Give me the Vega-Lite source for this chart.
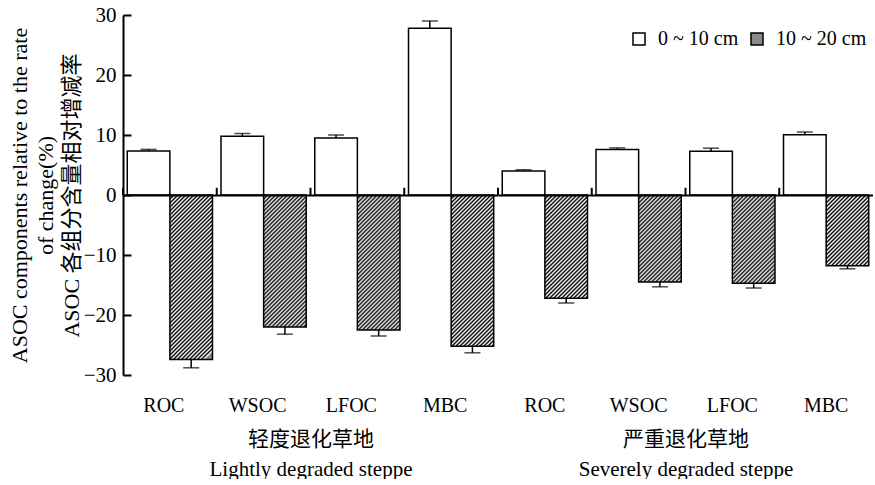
{
  "$schema": "https://vega.github.io/schema/vega-lite/v6.json",
  "padding": {"left": 8, "top": 4, "right": 0, "bottom": 0},
  "autosize": {"type": "pad"},
  "background": "white",
  "spacing": 0,
  "bounds": "flush",
  "config": {"view": {"stroke": null}, "font": "Liberation Serif"},
  "datasets": {
    "d": [
      {"group": "L", "cat": "ROC", "depth": "0 ~ 10 cm", "value": 7.33, "hi": 7.6},
      {"group": "L", "cat": "WSOC", "depth": "0 ~ 10 cm", "value": 9.8, "hi": 10.25},
      {"group": "L", "cat": "LFOC", "depth": "0 ~ 10 cm", "value": 9.5, "hi": 10.0},
      {"group": "L", "cat": "MBC", "depth": "0 ~ 10 cm", "value": 27.8, "hi": 29.0},
      {"group": "S", "cat": "ROC", "depth": "0 ~ 10 cm", "value": 4.0, "hi": 4.2},
      {"group": "S", "cat": "WSOC", "depth": "0 ~ 10 cm", "value": 7.6, "hi": 7.85},
      {"group": "S", "cat": "LFOC", "depth": "0 ~ 10 cm", "value": 7.3, "hi": 7.8},
      {"group": "S", "cat": "MBC", "depth": "0 ~ 10 cm", "value": 10.05, "hi": 10.5},
      {"group": "L", "cat": "ROC", "depth": "10 ~ 20 cm", "value": -27.4, "hi": -28.8},
      {"group": "L", "cat": "WSOC", "depth": "10 ~ 20 cm", "value": -22.0, "hi": -23.2},
      {"group": "L", "cat": "LFOC", "depth": "10 ~ 20 cm", "value": -22.5, "hi": -23.5},
      {"group": "L", "cat": "MBC", "depth": "10 ~ 20 cm", "value": -25.2, "hi": -26.3},
      {"group": "S", "cat": "ROC", "depth": "10 ~ 20 cm", "value": -17.2, "hi": -18.0},
      {"group": "S", "cat": "WSOC", "depth": "10 ~ 20 cm", "value": -14.5, "hi": -15.3},
      {"group": "S", "cat": "LFOC", "depth": "10 ~ 20 cm", "value": -14.7, "hi": -15.5},
      {"group": "S", "cat": "MBC", "depth": "10 ~ 20 cm", "value": -11.8, "hi": -12.3}
    ]
  },
  "hconcat": [
    {
      "width": 375,
      "height": 360,
      "data": {"name": "d"},
      "transform": [{"filter": "datum.group === 'L'"}],
      "encoding": {
        "y": {
          "field": "value",
          "type": "quantitative",
          "scale": {"domain": [-30, 30], "nice": false, "zero": false},
          "axis": {
            "values": [-30, -20, -10, 0, 10, 20, 30],
            "domainColor": "black",
            "domainWidth": 2,
            "tickColor": "black",
            "tickWidth": 2,
            "tickSize": -8,
            "labelPadding": 15,
            "labelFont": "Liberation Serif",
            "labelFontSize": 21,
            "labelColor": "black",
            "title": ["ASOC components relative to the rate", "of change(%)", "ASOC 各组分含量相对增减率"],
            "titleFont": "Liberation Serif, Noto Sans CJK SC",
            "titleFontSize": 22,
            "titleFontWeight": "normal",
            "titleColor": "black",
            "titleLineHeight": 26,
            "titlePadding": 0,
            "grid": true,
            "gridColor": "black",
            "gridWidth": 2,
            "gridOpacity": {"condition": {"test": "datum.value === 0", "value": 1}, "value": 0},
            "zindex": 1
          }
        }
      },
      "layer": [
        {
          "transform": [{"filter": "datum.depth === '0 ~ 10 cm'"}],
          "mark": {"type": "bar", "fill": "white", "stroke": "black", "strokeWidth": 1.5},
          "encoding": {
            "x": {"field": "cat", "type": "nominal", "sort": ["ROC", "WSOC", "LFOC", "MBC"], "scale": {"paddingInner": 0, "paddingOuter": 0},
              "axis": {"orient": "bottom", "domain": false, "ticks": false, "labelAngle": 0, "labelFont": "Liberation Serif", "labelFontSize": 20, "labelColor": "black", "labelPadding": 20, "labelOffset": -6,
                "title": ["轻度退化草地", "Lightly degraded steppe"], "titleFont": "Liberation Serif, Noto Sans CJK SC", "titleFontSize": 21, "titleFontWeight": "normal", "titleColor": "black", "titleLineHeight": 30, "titlePadding": 13}},
            "xOffset": {"field": "depth", "type": "nominal", "sort": ["0 ~ 10 cm", "10 ~ 20 cm"], "scale": {"paddingInner": 0, "paddingOuter": 0.1}}
          }
        },
        {
          "transform": [{"filter": "datum.cat === 'ROC' && datum.depth === '10 ~ 20 cm'"}],
          "mark": {"type": "bar", "stroke": "black", "strokeWidth": 1.5, "fill": {"gradient": "linear", "x1": 0, "y1": 0, "x2": 0.29546, "y2": 1.13997, "stops": [{"offset":0,"color":"#000"},{"offset":0.01,"color":"#fff"},{"offset":0.02,"color":"#000"},{"offset":0.03,"color":"#fff"},{"offset":0.04,"color":"#000"},{"offset":0.05,"color":"#fff"},{"offset":0.06,"color":"#000"},{"offset":0.07,"color":"#fff"},{"offset":0.08,"color":"#000"},{"offset":0.09,"color":"#fff"},{"offset":0.1,"color":"#000"},{"offset":0.11,"color":"#fff"},{"offset":0.12,"color":"#000"},{"offset":0.13,"color":"#fff"},{"offset":0.14,"color":"#000"},{"offset":0.15,"color":"#fff"},{"offset":0.16,"color":"#000"},{"offset":0.17,"color":"#fff"},{"offset":0.18,"color":"#000"},{"offset":0.19,"color":"#fff"},{"offset":0.2,"color":"#000"},{"offset":0.21,"color":"#fff"},{"offset":0.22,"color":"#000"},{"offset":0.23,"color":"#fff"},{"offset":0.24,"color":"#000"},{"offset":0.25,"color":"#fff"},{"offset":0.26,"color":"#000"},{"offset":0.27,"color":"#fff"},{"offset":0.28,"color":"#000"},{"offset":0.29,"color":"#fff"},{"offset":0.3,"color":"#000"},{"offset":0.31,"color":"#fff"},{"offset":0.32,"color":"#000"},{"offset":0.33,"color":"#fff"},{"offset":0.34,"color":"#000"},{"offset":0.35,"color":"#fff"},{"offset":0.36,"color":"#000"},{"offset":0.37,"color":"#fff"},{"offset":0.38,"color":"#000"},{"offset":0.39,"color":"#fff"},{"offset":0.4,"color":"#000"},{"offset":0.41,"color":"#fff"},{"offset":0.42,"color":"#000"},{"offset":0.43,"color":"#fff"},{"offset":0.44,"color":"#000"},{"offset":0.45,"color":"#fff"},{"offset":0.46,"color":"#000"},{"offset":0.47,"color":"#fff"},{"offset":0.48,"color":"#000"},{"offset":0.49,"color":"#fff"},{"offset":0.5,"color":"#000"},{"offset":0.51,"color":"#fff"},{"offset":0.52,"color":"#000"},{"offset":0.53,"color":"#fff"},{"offset":0.54,"color":"#000"},{"offset":0.55,"color":"#fff"},{"offset":0.56,"color":"#000"},{"offset":0.57,"color":"#fff"},{"offset":0.58,"color":"#000"},{"offset":0.59,"color":"#fff"},{"offset":0.6,"color":"#000"},{"offset":0.61,"color":"#fff"},{"offset":0.62,"color":"#000"},{"offset":0.63,"color":"#fff"},{"offset":0.64,"color":"#000"},{"offset":0.65,"color":"#fff"},{"offset":0.66,"color":"#000"},{"offset":0.67,"color":"#fff"},{"offset":0.68,"color":"#000"},{"offset":0.69,"color":"#fff"},{"offset":0.7,"color":"#000"},{"offset":0.71,"color":"#fff"},{"offset":0.72,"color":"#000"},{"offset":0.73,"color":"#fff"},{"offset":0.74,"color":"#000"},{"offset":0.75,"color":"#fff"},{"offset":0.76,"color":"#000"},{"offset":0.77,"color":"#fff"},{"offset":0.78,"color":"#000"},{"offset":0.79,"color":"#fff"},{"offset":0.8,"color":"#000"},{"offset":0.81,"color":"#fff"},{"offset":0.82,"color":"#000"},{"offset":0.83,"color":"#fff"},{"offset":0.84,"color":"#000"},{"offset":0.85,"color":"#fff"},{"offset":0.86,"color":"#000"},{"offset":0.87,"color":"#fff"},{"offset":0.88,"color":"#000"},{"offset":0.89,"color":"#fff"},{"offset":0.9,"color":"#000"},{"offset":0.91,"color":"#fff"},{"offset":0.92,"color":"#000"},{"offset":0.93,"color":"#fff"},{"offset":0.94,"color":"#000"},{"offset":0.95,"color":"#fff"},{"offset":0.96,"color":"#000"},{"offset":0.97,"color":"#fff"},{"offset":0.98,"color":"#000"},{"offset":0.99,"color":"#fff"},{"offset":1,"color":"#888"}]}},
          "encoding": {
            "x": {"field": "cat", "type": "nominal", "sort": ["ROC", "WSOC", "LFOC", "MBC"], "scale": {"paddingInner": 0, "paddingOuter": 0}},
            "xOffset": {"field": "depth", "type": "nominal", "sort": ["0 ~ 10 cm", "10 ~ 20 cm"], "scale": {"paddingInner": 0, "paddingOuter": 0.1}}
          }
        },
        {
          "transform": [{"filter": "datum.cat === 'WSOC' && datum.depth === '10 ~ 20 cm'"}],
          "mark": {"type": "bar", "stroke": "black", "strokeWidth": 1.5, "fill": {"gradient": "linear", "x1": 0, "y1": 0, "x2": 0.44294, "y2": 1.37217, "stops": [{"offset":0,"color":"#000"},{"offset":0.01,"color":"#fff"},{"offset":0.02,"color":"#000"},{"offset":0.03,"color":"#fff"},{"offset":0.04,"color":"#000"},{"offset":0.05,"color":"#fff"},{"offset":0.06,"color":"#000"},{"offset":0.07,"color":"#fff"},{"offset":0.08,"color":"#000"},{"offset":0.09,"color":"#fff"},{"offset":0.1,"color":"#000"},{"offset":0.11,"color":"#fff"},{"offset":0.12,"color":"#000"},{"offset":0.13,"color":"#fff"},{"offset":0.14,"color":"#000"},{"offset":0.15,"color":"#fff"},{"offset":0.16,"color":"#000"},{"offset":0.17,"color":"#fff"},{"offset":0.18,"color":"#000"},{"offset":0.19,"color":"#fff"},{"offset":0.2,"color":"#000"},{"offset":0.21,"color":"#fff"},{"offset":0.22,"color":"#000"},{"offset":0.23,"color":"#fff"},{"offset":0.24,"color":"#000"},{"offset":0.25,"color":"#fff"},{"offset":0.26,"color":"#000"},{"offset":0.27,"color":"#fff"},{"offset":0.28,"color":"#000"},{"offset":0.29,"color":"#fff"},{"offset":0.3,"color":"#000"},{"offset":0.31,"color":"#fff"},{"offset":0.32,"color":"#000"},{"offset":0.33,"color":"#fff"},{"offset":0.34,"color":"#000"},{"offset":0.35,"color":"#fff"},{"offset":0.36,"color":"#000"},{"offset":0.37,"color":"#fff"},{"offset":0.38,"color":"#000"},{"offset":0.39,"color":"#fff"},{"offset":0.4,"color":"#000"},{"offset":0.41,"color":"#fff"},{"offset":0.42,"color":"#000"},{"offset":0.43,"color":"#fff"},{"offset":0.44,"color":"#000"},{"offset":0.45,"color":"#fff"},{"offset":0.46,"color":"#000"},{"offset":0.47,"color":"#fff"},{"offset":0.48,"color":"#000"},{"offset":0.49,"color":"#fff"},{"offset":0.5,"color":"#000"},{"offset":0.51,"color":"#fff"},{"offset":0.52,"color":"#000"},{"offset":0.53,"color":"#fff"},{"offset":0.54,"color":"#000"},{"offset":0.55,"color":"#fff"},{"offset":0.56,"color":"#000"},{"offset":0.57,"color":"#fff"},{"offset":0.58,"color":"#000"},{"offset":0.59,"color":"#fff"},{"offset":0.6,"color":"#000"},{"offset":0.61,"color":"#fff"},{"offset":0.62,"color":"#000"},{"offset":0.63,"color":"#fff"},{"offset":0.64,"color":"#000"},{"offset":0.65,"color":"#fff"},{"offset":0.66,"color":"#000"},{"offset":0.67,"color":"#fff"},{"offset":0.68,"color":"#000"},{"offset":0.69,"color":"#fff"},{"offset":0.7,"color":"#000"},{"offset":0.71,"color":"#fff"},{"offset":0.72,"color":"#000"},{"offset":0.73,"color":"#fff"},{"offset":0.74,"color":"#000"},{"offset":0.75,"color":"#fff"},{"offset":0.76,"color":"#000"},{"offset":0.77,"color":"#fff"},{"offset":0.78,"color":"#000"},{"offset":0.79,"color":"#fff"},{"offset":0.8,"color":"#000"},{"offset":0.81,"color":"#fff"},{"offset":0.82,"color":"#000"},{"offset":0.83,"color":"#fff"},{"offset":0.84,"color":"#000"},{"offset":0.85,"color":"#fff"},{"offset":0.86,"color":"#000"},{"offset":0.87,"color":"#fff"},{"offset":0.88,"color":"#000"}]}},
          "encoding": {
            "x": {"field": "cat", "type": "nominal", "sort": ["ROC", "WSOC", "LFOC", "MBC"], "scale": {"paddingInner": 0, "paddingOuter": 0}},
            "xOffset": {"field": "depth", "type": "nominal", "sort": ["0 ~ 10 cm", "10 ~ 20 cm"], "scale": {"paddingInner": 0, "paddingOuter": 0.1}}
          }
        },
        {
          "transform": [{"filter": "datum.cat === 'LFOC' && datum.depth === '10 ~ 20 cm'"}],
          "mark": {"type": "bar", "stroke": "black", "strokeWidth": 1.5, "fill": {"gradient": "linear", "x1": 0, "y1": 0, "x2": 0.42524, "y2": 1.34727, "stops": [{"offset":0,"color":"#000"},{"offset":0.01,"color":"#fff"},{"offset":0.02,"color":"#000"},{"offset":0.03,"color":"#fff"},{"offset":0.04,"color":"#000"},{"offset":0.05,"color":"#fff"},{"offset":0.06,"color":"#000"},{"offset":0.07,"color":"#fff"},{"offset":0.08,"color":"#000"},{"offset":0.09,"color":"#fff"},{"offset":0.1,"color":"#000"},{"offset":0.11,"color":"#fff"},{"offset":0.12,"color":"#000"},{"offset":0.13,"color":"#fff"},{"offset":0.14,"color":"#000"},{"offset":0.15,"color":"#fff"},{"offset":0.16,"color":"#000"},{"offset":0.17,"color":"#fff"},{"offset":0.18,"color":"#000"},{"offset":0.19,"color":"#fff"},{"offset":0.2,"color":"#000"},{"offset":0.21,"color":"#fff"},{"offset":0.22,"color":"#000"},{"offset":0.23,"color":"#fff"},{"offset":0.24,"color":"#000"},{"offset":0.25,"color":"#fff"},{"offset":0.26,"color":"#000"},{"offset":0.27,"color":"#fff"},{"offset":0.28,"color":"#000"},{"offset":0.29,"color":"#fff"},{"offset":0.3,"color":"#000"},{"offset":0.31,"color":"#fff"},{"offset":0.32,"color":"#000"},{"offset":0.33,"color":"#fff"},{"offset":0.34,"color":"#000"},{"offset":0.35,"color":"#fff"},{"offset":0.36,"color":"#000"},{"offset":0.37,"color":"#fff"},{"offset":0.38,"color":"#000"},{"offset":0.39,"color":"#fff"},{"offset":0.4,"color":"#000"},{"offset":0.41,"color":"#fff"},{"offset":0.42,"color":"#000"},{"offset":0.43,"color":"#fff"},{"offset":0.44,"color":"#000"},{"offset":0.45,"color":"#fff"},{"offset":0.46,"color":"#000"},{"offset":0.47,"color":"#fff"},{"offset":0.48,"color":"#000"},{"offset":0.49,"color":"#fff"},{"offset":0.5,"color":"#000"},{"offset":0.51,"color":"#fff"},{"offset":0.52,"color":"#000"},{"offset":0.53,"color":"#fff"},{"offset":0.54,"color":"#000"},{"offset":0.55,"color":"#fff"},{"offset":0.56,"color":"#000"},{"offset":0.57,"color":"#fff"},{"offset":0.58,"color":"#000"},{"offset":0.59,"color":"#fff"},{"offset":0.6,"color":"#000"},{"offset":0.61,"color":"#fff"},{"offset":0.62,"color":"#000"},{"offset":0.63,"color":"#fff"},{"offset":0.64,"color":"#000"},{"offset":0.65,"color":"#fff"},{"offset":0.66,"color":"#000"},{"offset":0.67,"color":"#fff"},{"offset":0.68,"color":"#000"},{"offset":0.69,"color":"#fff"},{"offset":0.7,"color":"#000"},{"offset":0.71,"color":"#fff"},{"offset":0.72,"color":"#000"},{"offset":0.73,"color":"#fff"},{"offset":0.74,"color":"#000"},{"offset":0.75,"color":"#fff"},{"offset":0.76,"color":"#000"},{"offset":0.77,"color":"#fff"},{"offset":0.78,"color":"#000"},{"offset":0.79,"color":"#fff"},{"offset":0.8,"color":"#000"},{"offset":0.81,"color":"#fff"},{"offset":0.82,"color":"#000"},{"offset":0.83,"color":"#fff"},{"offset":0.84,"color":"#000"},{"offset":0.85,"color":"#fff"},{"offset":0.86,"color":"#000"},{"offset":0.87,"color":"#fff"},{"offset":0.88,"color":"#000"},{"offset":0.89,"color":"#fff"},{"offset":0.9,"color":"#000"}]}},
          "encoding": {
            "x": {"field": "cat", "type": "nominal", "sort": ["ROC", "WSOC", "LFOC", "MBC"], "scale": {"paddingInner": 0, "paddingOuter": 0}},
            "xOffset": {"field": "depth", "type": "nominal", "sort": ["0 ~ 10 cm", "10 ~ 20 cm"], "scale": {"paddingInner": 0, "paddingOuter": 0.1}}
          }
        },
        {
          "transform": [{"filter": "datum.cat === 'MBC' && datum.depth === '10 ~ 20 cm'"}],
          "mark": {"type": "bar", "stroke": "black", "strokeWidth": 1.5, "fill": {"gradient": "linear", "x1": 0, "y1": 0, "x2": 0.34534, "y2": 1.22543, "stops": [{"offset":0,"color":"#000"},{"offset":0.01,"color":"#fff"},{"offset":0.02,"color":"#000"},{"offset":0.03,"color":"#fff"},{"offset":0.04,"color":"#000"},{"offset":0.05,"color":"#fff"},{"offset":0.06,"color":"#000"},{"offset":0.07,"color":"#fff"},{"offset":0.08,"color":"#000"},{"offset":0.09,"color":"#fff"},{"offset":0.1,"color":"#000"},{"offset":0.11,"color":"#fff"},{"offset":0.12,"color":"#000"},{"offset":0.13,"color":"#fff"},{"offset":0.14,"color":"#000"},{"offset":0.15,"color":"#fff"},{"offset":0.16,"color":"#000"},{"offset":0.17,"color":"#fff"},{"offset":0.18,"color":"#000"},{"offset":0.19,"color":"#fff"},{"offset":0.2,"color":"#000"},{"offset":0.21,"color":"#fff"},{"offset":0.22,"color":"#000"},{"offset":0.23,"color":"#fff"},{"offset":0.24,"color":"#000"},{"offset":0.25,"color":"#fff"},{"offset":0.26,"color":"#000"},{"offset":0.27,"color":"#fff"},{"offset":0.28,"color":"#000"},{"offset":0.29,"color":"#fff"},{"offset":0.3,"color":"#000"},{"offset":0.31,"color":"#fff"},{"offset":0.32,"color":"#000"},{"offset":0.33,"color":"#fff"},{"offset":0.34,"color":"#000"},{"offset":0.35,"color":"#fff"},{"offset":0.36,"color":"#000"},{"offset":0.37,"color":"#fff"},{"offset":0.38,"color":"#000"},{"offset":0.39,"color":"#fff"},{"offset":0.4,"color":"#000"},{"offset":0.41,"color":"#fff"},{"offset":0.42,"color":"#000"},{"offset":0.43,"color":"#fff"},{"offset":0.44,"color":"#000"},{"offset":0.45,"color":"#fff"},{"offset":0.46,"color":"#000"},{"offset":0.47,"color":"#fff"},{"offset":0.48,"color":"#000"},{"offset":0.49,"color":"#fff"},{"offset":0.5,"color":"#000"},{"offset":0.51,"color":"#fff"},{"offset":0.52,"color":"#000"},{"offset":0.53,"color":"#fff"},{"offset":0.54,"color":"#000"},{"offset":0.55,"color":"#fff"},{"offset":0.56,"color":"#000"},{"offset":0.57,"color":"#fff"},{"offset":0.58,"color":"#000"},{"offset":0.59,"color":"#fff"},{"offset":0.6,"color":"#000"},{"offset":0.61,"color":"#fff"},{"offset":0.62,"color":"#000"},{"offset":0.63,"color":"#fff"},{"offset":0.64,"color":"#000"},{"offset":0.65,"color":"#fff"},{"offset":0.66,"color":"#000"},{"offset":0.67,"color":"#fff"},{"offset":0.68,"color":"#000"},{"offset":0.69,"color":"#fff"},{"offset":0.7,"color":"#000"},{"offset":0.71,"color":"#fff"},{"offset":0.72,"color":"#000"},{"offset":0.73,"color":"#fff"},{"offset":0.74,"color":"#000"},{"offset":0.75,"color":"#fff"},{"offset":0.76,"color":"#000"},{"offset":0.77,"color":"#fff"},{"offset":0.78,"color":"#000"},{"offset":0.79,"color":"#fff"},{"offset":0.8,"color":"#000"},{"offset":0.81,"color":"#fff"},{"offset":0.82,"color":"#000"},{"offset":0.83,"color":"#fff"},{"offset":0.84,"color":"#000"},{"offset":0.85,"color":"#fff"},{"offset":0.86,"color":"#000"},{"offset":0.87,"color":"#fff"},{"offset":0.88,"color":"#000"},{"offset":0.89,"color":"#fff"},{"offset":0.9,"color":"#000"},{"offset":0.91,"color":"#fff"},{"offset":0.92,"color":"#000"},{"offset":0.93,"color":"#fff"},{"offset":0.94,"color":"#000"},{"offset":0.95,"color":"#fff"},{"offset":0.96,"color":"#000"},{"offset":0.97,"color":"#fff"},{"offset":0.98,"color":"#000"}]}},
          "encoding": {
            "x": {"field": "cat", "type": "nominal", "sort": ["ROC", "WSOC", "LFOC", "MBC"], "scale": {"paddingInner": 0, "paddingOuter": 0}},
            "xOffset": {"field": "depth", "type": "nominal", "sort": ["0 ~ 10 cm", "10 ~ 20 cm"], "scale": {"paddingInner": 0, "paddingOuter": 0.1}}
          }
        },
        {
          "mark": {"type": "rule", "color": "black", "strokeWidth": 1.5},
          "encoding": {
            "x": {"field": "cat", "type": "nominal", "sort": ["ROC", "WSOC", "LFOC", "MBC"], "scale": {"paddingInner": 0, "paddingOuter": 0}},
            "xOffset": {"field": "depth", "type": "nominal", "sort": ["0 ~ 10 cm", "10 ~ 20 cm"], "scale": {"paddingInner": 0, "paddingOuter": 0.1}},
            "y2": {"field": "hi"}
          }
        },
        {
          "mark": {"type": "tick", "orient": "horizontal", "color": "black", "size": 16, "thickness": 1.5},
          "encoding": {
            "x": {"field": "cat", "type": "nominal", "sort": ["ROC", "WSOC", "LFOC", "MBC"], "scale": {"paddingInner": 0, "paddingOuter": 0}},
            "xOffset": {"field": "depth", "type": "nominal", "sort": ["0 ~ 10 cm", "10 ~ 20 cm"], "scale": {"paddingInner": 0, "paddingOuter": 0.1}},
            "y": {"field": "hi", "type": "quantitative"}
          }
        },
        {
          "transform": [{"filter": "datum.depth === '0 ~ 10 cm'"}],
          "mark": {"type": "rule", "color": "black", "strokeWidth": 2},
          "encoding": {
            "x": {"field": "cat", "type": "nominal", "sort": ["ROC", "WSOC", "LFOC", "MBC"], "bandPosition": 0, "scale": {"paddingInner": 0, "paddingOuter": 0}},
            "y": {"datum": 0},
            "y2": {"datum": 1.2}
          }
        }
      ]
    },
    {
      "width": 375,
      "height": 360,
      "data": {"name": "d"},
      "transform": [{"filter": "datum.group === 'S'"}],
      "encoding": {
        "y": {
          "field": "value",
          "type": "quantitative",
          "scale": {"domain": [-30, 30], "nice": false, "zero": false},
          "axis": {"values": [0], "domain": false, "ticks": false, "labels": false, "title": null, "grid": true, "gridColor": "black", "gridWidth": 2, "zindex": 1}
        }
      },
      "layer": [
        {
          "transform": [{"filter": "datum.depth === '0 ~ 10 cm'"}],
          "mark": {"type": "bar", "stroke": "black", "strokeWidth": 1.5},
          "encoding": {
            "x": {"field": "cat", "type": "nominal", "sort": ["ROC", "WSOC", "LFOC", "MBC"], "scale": {"paddingInner": 0, "paddingOuter": 0},
              "axis": {"orient": "bottom", "domain": false, "ticks": false, "labelAngle": 0, "labelFont": "Liberation Serif", "labelFontSize": 20, "labelColor": "black", "labelPadding": 20, "labelOffset": 0,
                "title": ["严重退化草地", "Severely degraded steppe"], "titleFont": "Liberation Serif, Noto Sans CJK SC", "titleFontSize": 21, "titleFontWeight": "normal", "titleColor": "black", "titleLineHeight": 30, "titlePadding": 13}},
            "xOffset": {"field": "depth", "type": "nominal", "sort": ["0 ~ 10 cm", "10 ~ 20 cm"], "scale": {"paddingInner": 0, "paddingOuter": 0.1}},
            "fill": {"field": "depth", "type": "nominal", "scale": {"domain": ["0 ~ 10 cm", "10 ~ 20 cm"], "range": ["white", "#8a8a8a"]},
              "legend": {"orient": "none", "legendX": 506, "legendY": 14, "direction": "horizontal", "gridAlign": "none", "title": null, "padding": 0, "symbolType": "square", "symbolSize": 144, "symbolStrokeWidth": 1.5, "symbolStrokeColor": "black", "labelFont": "Liberation Serif", "labelFontSize": 20, "labelColor": "black", "labelOffset": 9, "columnPadding": 8}}
          }
        },
        {
          "transform": [{"filter": "datum.cat === 'ROC' && datum.depth === '10 ~ 20 cm'"}],
          "mark": {"type": "bar", "stroke": "black", "strokeWidth": 1.5, "fill": {"gradient": "linear", "x1": 0, "y1": 0, "x2": 0.68363, "y2": 1.65573, "stops": [{"offset":0,"color":"#000"},{"offset":0.01,"color":"#fff"},{"offset":0.02,"color":"#000"},{"offset":0.03,"color":"#fff"},{"offset":0.04,"color":"#000"},{"offset":0.05,"color":"#fff"},{"offset":0.06,"color":"#000"},{"offset":0.07,"color":"#fff"},{"offset":0.08,"color":"#000"},{"offset":0.09,"color":"#fff"},{"offset":0.1,"color":"#000"},{"offset":0.11,"color":"#fff"},{"offset":0.12,"color":"#000"},{"offset":0.13,"color":"#fff"},{"offset":0.14,"color":"#000"},{"offset":0.15,"color":"#fff"},{"offset":0.16,"color":"#000"},{"offset":0.17,"color":"#fff"},{"offset":0.18,"color":"#000"},{"offset":0.19,"color":"#fff"},{"offset":0.2,"color":"#000"},{"offset":0.21,"color":"#fff"},{"offset":0.22,"color":"#000"},{"offset":0.23,"color":"#fff"},{"offset":0.24,"color":"#000"},{"offset":0.25,"color":"#fff"},{"offset":0.26,"color":"#000"},{"offset":0.27,"color":"#fff"},{"offset":0.28,"color":"#000"},{"offset":0.29,"color":"#fff"},{"offset":0.3,"color":"#000"},{"offset":0.31,"color":"#fff"},{"offset":0.32,"color":"#000"},{"offset":0.33,"color":"#fff"},{"offset":0.34,"color":"#000"},{"offset":0.35,"color":"#fff"},{"offset":0.36,"color":"#000"},{"offset":0.37,"color":"#fff"},{"offset":0.38,"color":"#000"},{"offset":0.39,"color":"#fff"},{"offset":0.4,"color":"#000"},{"offset":0.41,"color":"#fff"},{"offset":0.42,"color":"#000"},{"offset":0.43,"color":"#fff"},{"offset":0.44,"color":"#000"},{"offset":0.45,"color":"#fff"},{"offset":0.46,"color":"#000"},{"offset":0.47,"color":"#fff"},{"offset":0.48,"color":"#000"},{"offset":0.49,"color":"#fff"},{"offset":0.5,"color":"#000"},{"offset":0.51,"color":"#fff"},{"offset":0.52,"color":"#000"},{"offset":0.53,"color":"#fff"},{"offset":0.54,"color":"#000"},{"offset":0.55,"color":"#fff"},{"offset":0.56,"color":"#000"},{"offset":0.57,"color":"#fff"},{"offset":0.58,"color":"#000"},{"offset":0.59,"color":"#fff"},{"offset":0.6,"color":"#000"},{"offset":0.61,"color":"#fff"},{"offset":0.62,"color":"#000"},{"offset":0.63,"color":"#fff"},{"offset":0.64,"color":"#000"},{"offset":0.65,"color":"#fff"},{"offset":0.66,"color":"#000"},{"offset":0.67,"color":"#fff"},{"offset":0.68,"color":"#000"},{"offset":0.69,"color":"#fff"},{"offset":0.7,"color":"#000"},{"offset":0.71,"color":"#fff"},{"offset":0.72,"color":"#000"},{"offset":0.73,"color":"#fff"},{"offset":0.74,"color":"#000"}]}},
          "encoding": {
            "x": {"field": "cat", "type": "nominal", "sort": ["ROC", "WSOC", "LFOC", "MBC"], "scale": {"paddingInner": 0, "paddingOuter": 0}},
            "xOffset": {"field": "depth", "type": "nominal", "sort": ["0 ~ 10 cm", "10 ~ 20 cm"], "scale": {"paddingInner": 0, "paddingOuter": 0.1}}
          }
        },
        {
          "transform": [{"filter": "datum.cat === 'WSOC' && datum.depth === '10 ~ 20 cm'"}],
          "mark": {"type": "bar", "stroke": "black", "strokeWidth": 1.5, "fill": {"gradient": "linear", "x1": 0, "y1": 0, "x2": 0.90808, "y2": 1.8541, "stops": [{"offset":0,"color":"#000"},{"offset":0.01,"color":"#fff"},{"offset":0.02,"color":"#000"},{"offset":0.03,"color":"#fff"},{"offset":0.04,"color":"#000"},{"offset":0.05,"color":"#fff"},{"offset":0.06,"color":"#000"},{"offset":0.07,"color":"#fff"},{"offset":0.08,"color":"#000"},{"offset":0.09,"color":"#fff"},{"offset":0.1,"color":"#000"},{"offset":0.11,"color":"#fff"},{"offset":0.12,"color":"#000"},{"offset":0.13,"color":"#fff"},{"offset":0.14,"color":"#000"},{"offset":0.15,"color":"#fff"},{"offset":0.16,"color":"#000"},{"offset":0.17,"color":"#fff"},{"offset":0.18,"color":"#000"},{"offset":0.19,"color":"#fff"},{"offset":0.2,"color":"#000"},{"offset":0.21,"color":"#fff"},{"offset":0.22,"color":"#000"},{"offset":0.23,"color":"#fff"},{"offset":0.24,"color":"#000"},{"offset":0.25,"color":"#fff"},{"offset":0.26,"color":"#000"},{"offset":0.27,"color":"#fff"},{"offset":0.28,"color":"#000"},{"offset":0.29,"color":"#fff"},{"offset":0.3,"color":"#000"},{"offset":0.31,"color":"#fff"},{"offset":0.32,"color":"#000"},{"offset":0.33,"color":"#fff"},{"offset":0.34,"color":"#000"},{"offset":0.35,"color":"#fff"},{"offset":0.36,"color":"#000"},{"offset":0.37,"color":"#fff"},{"offset":0.38,"color":"#000"},{"offset":0.39,"color":"#fff"},{"offset":0.4,"color":"#000"},{"offset":0.41,"color":"#fff"},{"offset":0.42,"color":"#000"},{"offset":0.43,"color":"#fff"},{"offset":0.44,"color":"#000"},{"offset":0.45,"color":"#fff"},{"offset":0.46,"color":"#000"},{"offset":0.47,"color":"#fff"},{"offset":0.48,"color":"#000"},{"offset":0.49,"color":"#fff"},{"offset":0.5,"color":"#000"},{"offset":0.51,"color":"#fff"},{"offset":0.52,"color":"#000"},{"offset":0.53,"color":"#fff"},{"offset":0.54,"color":"#000"},{"offset":0.55,"color":"#fff"},{"offset":0.56,"color":"#000"},{"offset":0.57,"color":"#fff"},{"offset":0.58,"color":"#000"},{"offset":0.59,"color":"#fff"},{"offset":0.6,"color":"#000"},{"offset":0.61,"color":"#fff"},{"offset":0.62,"color":"#000"},{"offset":0.63,"color":"#fff"},{"offset":0.64,"color":"#000"},{"offset":0.65,"color":"#fff"},{"offset":0.66,"color":"#000"}]}},
          "encoding": {
            "x": {"field": "cat", "type": "nominal", "sort": ["ROC", "WSOC", "LFOC", "MBC"], "scale": {"paddingInner": 0, "paddingOuter": 0}},
            "xOffset": {"field": "depth", "type": "nominal", "sort": ["0 ~ 10 cm", "10 ~ 20 cm"], "scale": {"paddingInner": 0, "paddingOuter": 0.1}}
          }
        },
        {
          "transform": [{"filter": "datum.cat === 'LFOC' && datum.depth === '10 ~ 20 cm'"}],
          "mark": {"type": "bar", "stroke": "black", "strokeWidth": 1.5, "fill": {"gradient": "linear", "x1": 0, "y1": 0, "x2": 0.88818, "y2": 1.8385, "stops": [{"offset":0,"color":"#000"},{"offset":0.01,"color":"#fff"},{"offset":0.02,"color":"#000"},{"offset":0.03,"color":"#fff"},{"offset":0.04,"color":"#000"},{"offset":0.05,"color":"#fff"},{"offset":0.06,"color":"#000"},{"offset":0.07,"color":"#fff"},{"offset":0.08,"color":"#000"},{"offset":0.09,"color":"#fff"},{"offset":0.1,"color":"#000"},{"offset":0.11,"color":"#fff"},{"offset":0.12,"color":"#000"},{"offset":0.13,"color":"#fff"},{"offset":0.14,"color":"#000"},{"offset":0.15,"color":"#fff"},{"offset":0.16,"color":"#000"},{"offset":0.17,"color":"#fff"},{"offset":0.18,"color":"#000"},{"offset":0.19,"color":"#fff"},{"offset":0.2,"color":"#000"},{"offset":0.21,"color":"#fff"},{"offset":0.22,"color":"#000"},{"offset":0.23,"color":"#fff"},{"offset":0.24,"color":"#000"},{"offset":0.25,"color":"#fff"},{"offset":0.26,"color":"#000"},{"offset":0.27,"color":"#fff"},{"offset":0.28,"color":"#000"},{"offset":0.29,"color":"#fff"},{"offset":0.3,"color":"#000"},{"offset":0.31,"color":"#fff"},{"offset":0.32,"color":"#000"},{"offset":0.33,"color":"#fff"},{"offset":0.34,"color":"#000"},{"offset":0.35,"color":"#fff"},{"offset":0.36,"color":"#000"},{"offset":0.37,"color":"#fff"},{"offset":0.38,"color":"#000"},{"offset":0.39,"color":"#fff"},{"offset":0.4,"color":"#000"},{"offset":0.41,"color":"#fff"},{"offset":0.42,"color":"#000"},{"offset":0.43,"color":"#fff"},{"offset":0.44,"color":"#000"},{"offset":0.45,"color":"#fff"},{"offset":0.46,"color":"#000"},{"offset":0.47,"color":"#fff"},{"offset":0.48,"color":"#000"},{"offset":0.49,"color":"#fff"},{"offset":0.5,"color":"#000"},{"offset":0.51,"color":"#fff"},{"offset":0.52,"color":"#000"},{"offset":0.53,"color":"#fff"},{"offset":0.54,"color":"#000"},{"offset":0.55,"color":"#fff"},{"offset":0.56,"color":"#000"},{"offset":0.57,"color":"#fff"},{"offset":0.58,"color":"#000"},{"offset":0.59,"color":"#fff"},{"offset":0.6,"color":"#000"},{"offset":0.61,"color":"#fff"},{"offset":0.62,"color":"#000"},{"offset":0.63,"color":"#fff"},{"offset":0.64,"color":"#000"},{"offset":0.65,"color":"#fff"},{"offset":0.66,"color":"#000"}]}},
          "encoding": {
            "x": {"field": "cat", "type": "nominal", "sort": ["ROC", "WSOC", "LFOC", "MBC"], "scale": {"paddingInner": 0, "paddingOuter": 0}},
            "xOffset": {"field": "depth", "type": "nominal", "sort": ["0 ~ 10 cm", "10 ~ 20 cm"], "scale": {"paddingInner": 0, "paddingOuter": 0.1}}
          }
        },
        {
          "transform": [{"filter": "datum.cat === 'MBC' && datum.depth === '10 ~ 20 cm'"}],
          "mark": {"type": "bar", "stroke": "black", "strokeWidth": 1.5, "fill": {"gradient": "linear", "x1": 0, "y1": 0, "x2": 1.24806, "y2": 2.07375, "stops": [{"offset":0,"color":"#000"},{"offset":0.01,"color":"#fff"},{"offset":0.02,"color":"#000"},{"offset":0.03,"color":"#fff"},{"offset":0.04,"color":"#000"},{"offset":0.05,"color":"#fff"},{"offset":0.06,"color":"#000"},{"offset":0.07,"color":"#fff"},{"offset":0.08,"color":"#000"},{"offset":0.09,"color":"#fff"},{"offset":0.1,"color":"#000"},{"offset":0.11,"color":"#fff"},{"offset":0.12,"color":"#000"},{"offset":0.13,"color":"#fff"},{"offset":0.14,"color":"#000"},{"offset":0.15,"color":"#fff"},{"offset":0.16,"color":"#000"},{"offset":0.17,"color":"#fff"},{"offset":0.18,"color":"#000"},{"offset":0.19,"color":"#fff"},{"offset":0.2,"color":"#000"},{"offset":0.21,"color":"#fff"},{"offset":0.22,"color":"#000"},{"offset":0.23,"color":"#fff"},{"offset":0.24,"color":"#000"},{"offset":0.25,"color":"#fff"},{"offset":0.26,"color":"#000"},{"offset":0.27,"color":"#fff"},{"offset":0.28,"color":"#000"},{"offset":0.29,"color":"#fff"},{"offset":0.3,"color":"#000"},{"offset":0.31,"color":"#fff"},{"offset":0.32,"color":"#000"},{"offset":0.33,"color":"#fff"},{"offset":0.34,"color":"#000"},{"offset":0.35,"color":"#fff"},{"offset":0.36,"color":"#000"},{"offset":0.37,"color":"#fff"},{"offset":0.38,"color":"#000"},{"offset":0.39,"color":"#fff"},{"offset":0.4,"color":"#000"},{"offset":0.41,"color":"#fff"},{"offset":0.42,"color":"#000"},{"offset":0.43,"color":"#fff"},{"offset":0.44,"color":"#000"},{"offset":0.45,"color":"#fff"},{"offset":0.46,"color":"#000"},{"offset":0.47,"color":"#fff"},{"offset":0.48,"color":"#000"},{"offset":0.49,"color":"#fff"},{"offset":0.5,"color":"#000"},{"offset":0.51,"color":"#fff"},{"offset":0.52,"color":"#000"},{"offset":0.53,"color":"#fff"},{"offset":0.54,"color":"#000"},{"offset":0.55,"color":"#fff"},{"offset":0.56,"color":"#000"},{"offset":0.57,"color":"#fff"},{"offset":0.58,"color":"#000"}]}},
          "encoding": {
            "x": {"field": "cat", "type": "nominal", "sort": ["ROC", "WSOC", "LFOC", "MBC"], "scale": {"paddingInner": 0, "paddingOuter": 0}},
            "xOffset": {"field": "depth", "type": "nominal", "sort": ["0 ~ 10 cm", "10 ~ 20 cm"], "scale": {"paddingInner": 0, "paddingOuter": 0.1}}
          }
        },
        {
          "mark": {"type": "rule", "color": "black", "strokeWidth": 1.5},
          "encoding": {
            "x": {"field": "cat", "type": "nominal", "sort": ["ROC", "WSOC", "LFOC", "MBC"], "scale": {"paddingInner": 0, "paddingOuter": 0}},
            "xOffset": {"field": "depth", "type": "nominal", "sort": ["0 ~ 10 cm", "10 ~ 20 cm"], "scale": {"paddingInner": 0, "paddingOuter": 0.1}},
            "y2": {"field": "hi"}
          }
        },
        {
          "mark": {"type": "tick", "orient": "horizontal", "color": "black", "size": 16, "thickness": 1.5},
          "encoding": {
            "x": {"field": "cat", "type": "nominal", "sort": ["ROC", "WSOC", "LFOC", "MBC"], "scale": {"paddingInner": 0, "paddingOuter": 0}},
            "xOffset": {"field": "depth", "type": "nominal", "sort": ["0 ~ 10 cm", "10 ~ 20 cm"], "scale": {"paddingInner": 0, "paddingOuter": 0.1}},
            "y": {"field": "hi", "type": "quantitative"}
          }
        },
        {
          "transform": [{"filter": "datum.depth === '0 ~ 10 cm'"}],
          "mark": {"type": "rule", "color": "black", "strokeWidth": 2},
          "encoding": {
            "x": {"field": "cat", "type": "nominal", "sort": ["ROC", "WSOC", "LFOC", "MBC"], "bandPosition": 0, "scale": {"paddingInner": 0, "paddingOuter": 0}},
            "y": {"datum": 0},
            "y2": {"datum": 1.2}
          }
        }
      ]
    }
  ]
}
